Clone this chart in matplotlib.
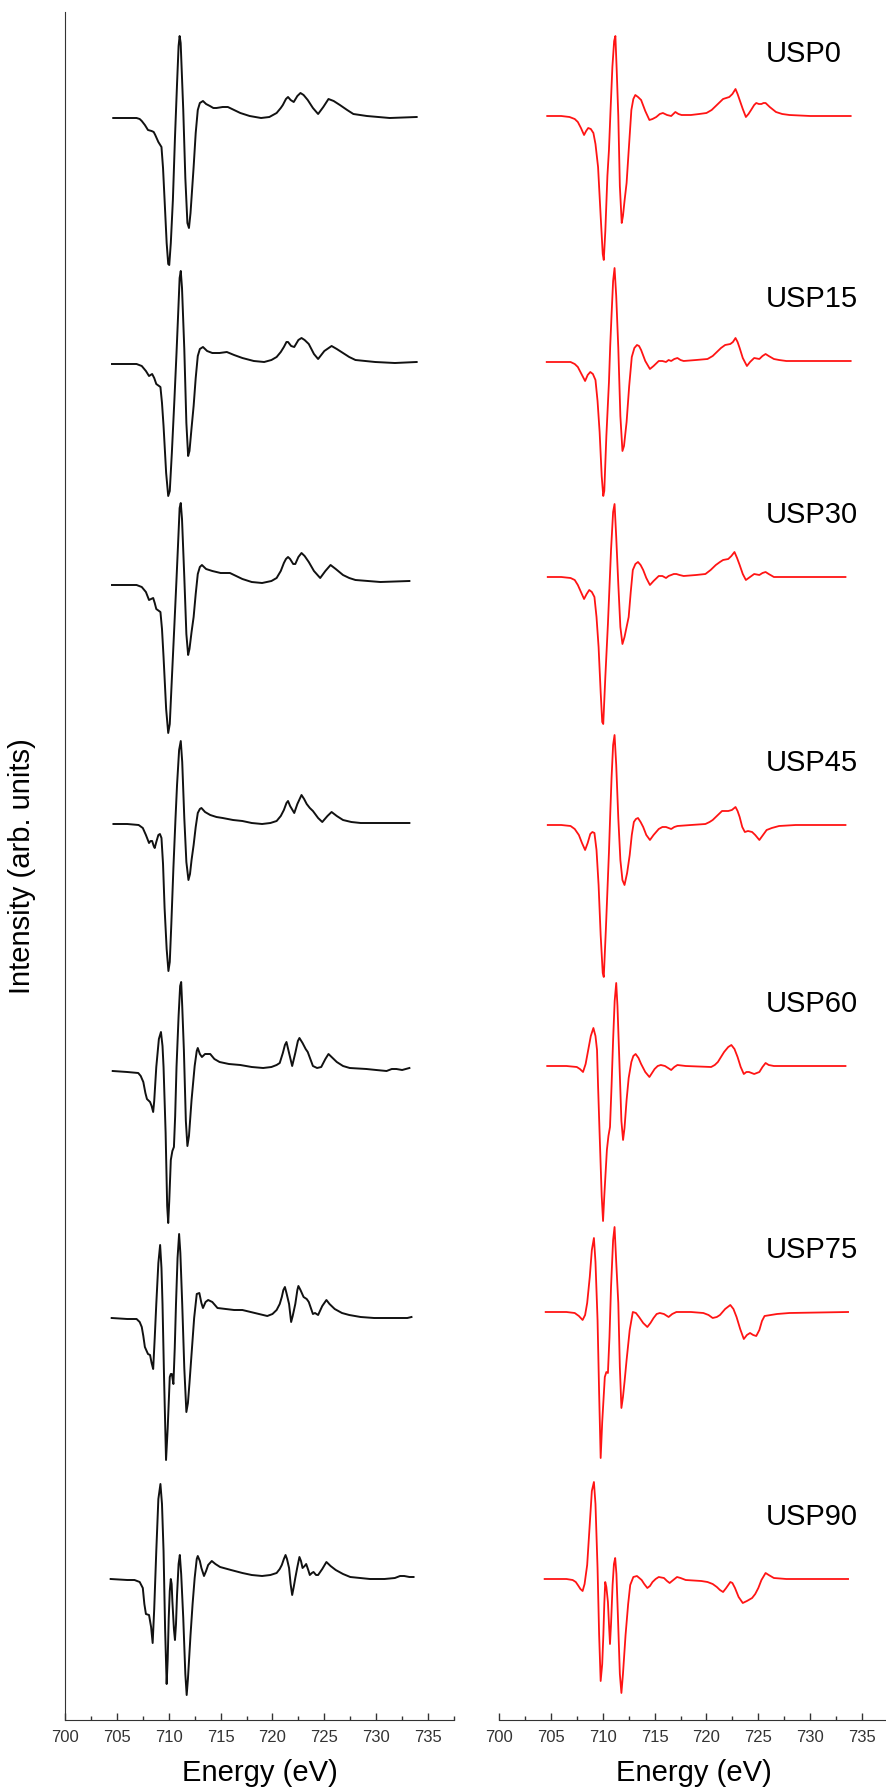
"""
stacked XAS spectra, experiment (black) vs calculation (red)
"""
import matplotlib
matplotlib.use('Agg')
import matplotlib.pyplot as plt
from matplotlib.ticker import MultipleLocator

plt.rcParams['font.family'] = ['Liberation Sans', 'DejaVu Sans']

samples = ['USP0', 'USP15', 'USP30', 'USP45', 'USP60', 'USP75', 'USP90']

# stacking offsets (arb. units)
exp_offsets = [1602, 1357, 1136, 896, 649, 402, 141]
sim_offsets = [1604, 1359, 1143, 895, 654, 408, 141]

# (energy eV, intensity)
# left panel, black
exp_usp0 = [(704.65, 0), (706.0, 0), (706.9, 0), (707.2, -1), (707.4, -3), (707.7, -7), (708.0, -12), (708.35, -13), (708.55, -14),
            (708.7, -17), (709.0, -24), (709.3, -29), (709.45, -50), (709.6, -82), (709.8, -125), (709.95, -146), (710.05, -147),
            (710.2, -125), (710.4, -82), (710.6, -20), (710.8, 34), (710.95, 72), (711.05, 82), (711.15, 75), (711.4, 8), (711.6, -60),
            (711.8, -105), (711.95, -110), (712.1, -95), (712.4, -49), (712.6, -15), (712.8, 8), (713.0, 15), (713.3, 17), (713.6, 14),
            (713.97, 12), (714.3, 10), (714.6, 10), (715.2, 11), (715.7, 11), (716.3, 8), (716.9, 5), (717.8, 2), (718.9, 0), (719.7, 1),
            (720.4, 5), (720.8, 10), (721.0, 13), (721.3, 19), (721.5, 21), (721.75, 18), (722.05, 16), (722.4, 22), (722.7, 25),
            (723.0, 23), (723.4, 18), (723.9, 10), (724.4, 4), (724.9, 11), (725.4, 19), (725.9, 17), (726.5, 13), (727.2, 8),
            (727.8, 4), (729.1, 2), (731.3, 0), (733.9, 1)]
exp_usp15 = [(704.53, -1), (706.0, -1), (706.9, -1), (707.4, -3), (707.8, -8), (708.1, -13), (708.4, -11), (708.6, -15), (708.8, -21),
             (709.2, -24), (709.35, -40), (709.5, -63), (709.75, -110), (709.95, -133), (710.1, -128), (710.3, -90), (710.55, -36),
             (710.75, 10), (710.9, 47), (711.05, 85), (711.16, 92), (711.28, 75), (711.5, 14), (711.7, -60), (711.87, -93), (712.0, -88),
             (712.2, -65), (712.4, -43), (712.6, -15), (712.8, 7), (713.0, 14), (713.3, 16), (713.7, 12), (714.2, 10), (714.9, 10),
             (715.6, 11), (716.3, 8), (717.1, 5), (718.2, 2), (719.2, 1), (719.9, 3), (720.4, 6), (720.8, 11), (721.1, 16), (721.35, 21),
             (721.5, 21), (721.8, 17), (722.1, 16), (722.5, 23), (722.8, 25), (723.1, 23), (723.5, 19), (724.0, 9), (724.4, 4),
             (725.0, 12), (725.7, 17), (726.2, 14), (726.8, 10), (727.4, 6), (728.0, 3), (729.9, 1), (731.8, 0), (733.9, 1)]
exp_usp30 = [(704.53, -1), (706.0, -1), (706.9, -1), (707.4, -3), (707.8, -8), (708.1, -16), (708.3, -15), (708.5, -14), (708.65, -19),
             (708.8, -25), (709.2, -28), (709.35, -45), (709.5, -73), (709.75, -125), (709.95, -149), (710.1, -140), (710.3, -95),
             (710.55, -40), (710.75, 5), (710.9, 40), (711.05, 76), (711.16, 81), (711.28, 65), (711.5, 7), (711.7, -50), (711.87, -71),
             (712.0, -65), (712.2, -48), (712.4, -33), (712.6, -10), (712.8, 10), (713.0, 17), (713.2, 19), (713.6, 15), (714.2, 13),
             (715.0, 11), (715.9, 11), (716.5, 8), (717.1, 5), (718.0, 2), (719.0, 1), (719.9, 3), (720.4, 6), (720.8, 13), (721.1, 21),
             (721.3, 25), (721.5, 27), (721.7, 25), (722.0, 20), (722.2, 20), (722.5, 27), (722.8, 31), (723.1, 28), (723.5, 22),
             (724.0, 13), (724.6, 6), (725.1, 13), (725.6, 19), (726.1, 15), (726.8, 9), (727.4, 6), (728.0, 4), (730.4, 2), (733.2, 3)]
exp_usp45 = [(704.67, 0), (706.0, 0), (707.1, -1), (707.5, -4), (707.8, -11), (708.1, -19), (708.25, -17), (708.4, -17), (708.55, -22),
             (708.65, -24), (708.8, -18), (709.0, -11), (709.15, -10), (709.3, -14), (709.45, -40), (709.6, -84), (709.8, -125),
             (709.97, -147), (710.1, -138), (710.25, -100), (710.45, -44), (710.65, 5), (710.8, 39), (711.0, 74), (711.16, 83),
             (711.3, 62), (711.5, 6), (711.7, -38), (711.9, -56), (712.05, -50), (712.2, -36), (712.4, -21), (712.6, -3), (712.8, 11),
             (713.0, 15), (713.15, 16), (713.5, 12), (714.0, 9), (714.6, 7), (715.2, 6), (716.2, 4), (717.1, 3), (718.0, 1), (719.0, 0),
             (719.8, 1), (720.4, 3), (720.8, 8), (721.1, 14), (721.35, 21), (721.5, 23), (721.7, 18), (722.1, 11), (722.4, 20),
             (722.8, 29), (723.05, 25), (723.3, 20), (723.6, 16), (723.9, 13), (724.4, 6), (724.8, 2), (725.3, 8), (725.7, 12),
             (726.2, 8), (726.8, 4), (727.6, 2), (728.5, 1), (733.2, 1)]
exp_usp60 = [(704.6, 0), (706.0, -1), (707.06, -2), (707.3, -5), (707.55, -11), (707.75, -22), (707.9, -28), (708.2, -31), (708.35, -35),
             (708.5, -41), (708.6, -30), (708.8, 4), (709.05, 32), (709.25, 39), (709.4, 25), (709.5, 4), (709.7, -62), (709.85, -135),
             (709.95, -152), (710.05, -130), (710.2, -89), (710.35, -80), (710.5, -76), (710.62, -45), (710.75, 4), (710.95, 55),
             (711.1, 85), (711.2, 89), (711.3, 65), (711.46, 21), (711.65, -50), (711.8, -75), (711.95, -65), (712.2, -29), (712.5, 5),
             (712.7, 20), (712.8, 23), (713.0, 17), (713.2, 14), (713.5, 17), (714.0, 17), (714.4, 12), (714.9, 9), (715.8, 7),
             (716.9, 6), (718.0, 4), (719.1, 3), (719.9, 4), (720.4, 6), (720.7, 8), (721.0, 18), (721.2, 26), (721.35, 29), (721.6, 18),
             (721.9, 5), (722.2, 18), (722.45, 30), (722.6, 33), (722.9, 28), (723.2, 22), (723.4, 19), (723.9, 5), (724.3, 3),
             (724.7, 4), (725.1, 12), (725.4, 17), (725.8, 13), (726.2, 9), (726.8, 5), (727.45, 3), (729.06, 2), (730.0, 1), (731.0, 0),
             (731.5, 2), (731.95, 2), (732.5, 1), (733.2, 3)]
exp_usp75 = [(704.5, 0), (706.0, -1), (706.9, -1), (707.2, -4), (707.4, -9), (707.55, -18), (707.7, -29), (708.0, -36), (708.2, -37),
             (708.35, -45), (708.5, -51), (708.65, -20), (708.8, 14), (709.0, 55), (709.17, 73), (709.3, 50), (709.4, 14), (709.55, -60),
             (709.74, -142), (709.9, -110), (710.1, -59), (710.2, -56), (710.3, -56), (710.45, -66), (710.58, -30), (710.7, 14),
             (710.85, 60), (711.0, 84), (711.12, 65), (711.3, 14), (711.5, -50), (711.7, -94), (711.85, -85), (712.0, -65), (712.2, -36),
             (712.45, 0), (712.7, 24), (712.95, 25), (713.15, 15), (713.3, 10), (713.55, 16), (713.8, 18), (714.2, 16), (714.7, 10),
             (715.5, 9), (716.3, 8), (717.1, 8), (718.3, 5), (719.5, 2), (720.0, 4), (720.4, 8), (720.7, 14), (720.9, 21), (721.05, 28),
             (721.2, 31), (721.35, 25), (721.6, 14), (721.8, -4), (721.95, 2), (722.2, 14), (722.4, 28), (722.5, 32), (722.7, 28),
             (723.0, 21), (723.3, 19), (723.5, 16), (723.9, 4), (724.1, 5), (724.4, 3), (724.8, 12), (725.2, 18), (725.5, 14), (726.0, 9),
             (726.7, 5), (727.4, 3), (728.5, 1), (729.8, 0), (731.7, 0), (733.0, 0), (733.4, 1)]
exp_usp90 = [(704.4, 0), (706.0, -1), (706.7, -1), (707.2, -3), (707.5, -9), (707.65, -25), (707.8, -35), (708.1, -36), (708.3, -48),
             (708.45, -64), (708.6, -30), (708.8, 28), (709.0, 80), (709.2, 95), (709.35, 75), (709.5, 28), (709.65, -50), (709.8, -105),
             (709.9, -80), (710.0, -39), (710.1, -12), (710.2, 0), (710.28, -5), (710.35, -22), (710.5, -50), (710.6, -61), (710.7, -45),
             (710.8, -16), (710.95, 15), (711.07, 24), (711.2, 5), (711.4, -39), (711.6, -95), (711.73, -116), (711.85, -100),
             (712.1, -56), (712.3, -25), (712.5, 1), (712.7, 20), (712.8, 23), (713.0, 18), (713.15, 11), (713.4, 3), (713.6, 8),
             (713.8, 14), (714.15, 18), (714.5, 15), (714.95, 12), (716.0, 9), (717.1, 6), (718.0, 4), (719.0, 3), (719.8, 4), (720.4, 6),
             (720.7, 10), (720.9, 14), (721.1, 20), (721.26, 24), (721.4, 20), (721.6, 11), (721.75, -5), (721.9, -16), (722.05, -8),
             (722.2, 1), (722.4, 12), (722.6, 22), (722.75, 18), (722.9, 11), (723.1, 13), (723.25, 15), (723.45, 9), (723.6, 4),
             (723.8, 6), (723.96, 7), (724.2, 4), (724.4, 4), (724.8, 10), (725.2, 17), (725.6, 13), (726.1, 9), (726.8, 5), (727.5, 2),
             (729.4, 0), (730.8, 0), (731.8, 1), (732.3, 3), (732.7, 3), (733.2, 2), (733.6, 2)]

# right panel, red
sim_usp0 = [(704.65, 0), (706.0, 0), (706.8, -1), (707.3, -3), (707.6, -6), (707.9, -12), (708.2, -19), (708.4, -15), (708.6, -12),
            (708.85, -13), (709.1, -17), (709.3, -28), (709.55, -51), (709.8, -100), (710.0, -138), (710.1, -144), (710.25, -115),
            (710.45, -60), (710.6, -34), (710.75, 5), (710.93, 49), (711.1, 75), (711.22, 80), (711.35, 45), (711.5, 0), (711.65, -70),
            (711.83, -107), (711.95, -100), (712.1, -85), (712.3, -67), (712.5, -35), (712.76, 6), (712.95, 17), (713.14, 21),
            (713.4, 19), (713.7, 16), (714.1, 5), (714.5, -4), (714.8, -3), (715.16, -1), (715.5, 2), (715.8, 3), (716.2, 1), (716.6, 0),
            (716.8, 2), (717.0, 4), (717.3, 2), (717.6, 1), (718.5, 1), (719.3, 2), (720.0, 3), (720.5, 6), (720.9, 10), (721.3, 14),
            (721.6, 17), (721.9, 18), (722.2, 19), (722.5, 22), (722.8, 27), (723.0, 22), (723.2, 16), (723.5, 7), (723.8, -1),
            (724.05, 2), (724.3, 6), (724.6, 11), (724.8, 13), (725.05, 12), (725.3, 12), (725.5, 13), (725.7, 13), (726.1, 9),
            (726.7, 4), (727.3, 2), (728.0, 1), (730.0, 0), (733.9, 0)]
sim_usp15 = [(704.6, -1), (706.0, -1), (706.9, -1), (707.3, -3), (707.6, -6), (708.0, -14), (708.3, -20), (708.55, -14), (708.8, -11),
             (709.05, -13), (709.3, -19), (709.5, -40), (709.7, -71), (709.9, -115), (710.05, -135), (710.15, -130), (710.35, -75),
             (710.6, -21), (710.72, 15), (710.85, 46), (711.0, 80), (711.14, 93), (711.3, 65), (711.5, 13), (711.7, -55), (711.9, -90),
             (712.05, -85), (712.3, -61), (712.55, -25), (712.8, 4), (713.05, 13), (713.3, 16), (713.5, 15), (713.7, 11), (714.1, 0),
             (714.55, -8), (714.9, -5), (715.4, 0), (715.75, 0), (716.1, -1), (716.35, 1), (716.6, 0), (716.9, 2), (717.2, 3),
             (717.5, 1), (717.8, 0), (719.0, 1), (720.1, 2), (720.6, 5), (721.0, 9), (721.4, 13), (721.8, 16), (722.3, 17),
             (722.55, 19), (722.8, 23), (723.0, 19), (723.2, 13), (723.5, 3), (723.9, -5), (724.2, -1), (724.6, 3), (725.1, 2),
             (725.4, 5), (725.7, 7), (726.0, 5), (726.5, 2), (727.0, 1), (727.7, 0), (733.9, 0)]
sim_usp30 = [(704.7, 0), (706.0, 0), (706.9, -1), (707.3, -3), (707.6, -8), (707.9, -15), (708.2, -22), (708.45, -17), (708.7, -13),
             (708.95, -15), (709.2, -20), (709.4, -40), (709.6, -70), (709.8, -115), (709.95, -145), (710.05, -147), (710.25, -100),
             (710.5, -47), (710.65, -10), (710.8, 27), (711.0, 65), (711.14, 73), (711.3, 40), (711.5, -7), (711.7, -50), (711.9, -67),
             (712.1, -60), (712.3, -50), (712.5, -40), (712.7, -15), (712.9, 7), (713.15, 13), (713.4, 15), (713.65, 12), (713.9, 7),
             (714.2, -1), (714.55, -8), (714.9, -4), (715.4, 1), (715.75, 1), (716.1, -1), (716.35, 1), (716.6, 2), (716.85, 3),
             (717.1, 3), (717.4, 2), (717.8, 1), (719.0, 2), (719.9, 3), (720.4, 7), (720.9, 12), (721.3, 15), (721.6, 17), (722.1, 18),
             (722.4, 21), (722.7, 25), (722.95, 19), (723.2, 12), (723.5, 3), (723.8, -3), (724.2, 0), (724.6, 3), (725.1, 2),
             (725.4, 4), (725.7, 5), (726.0, 3), (726.5, 0), (727.5, 0), (733.4, 0)]
sim_usp45 = [(704.7, 0), (706.0, 0), (706.9, -1), (707.3, -4), (707.7, -10), (708.0, -18), (708.3, -25), (708.55, -18), (708.8, -9),
             (709.0, -7), (709.2, -8), (709.4, -25), (709.6, -60), (709.8, -110), (710.0, -148), (710.1, -152), (710.3, -105),
             (710.6, -27), (710.72, 10), (710.85, 47), (711.0, 80), (711.14, 90), (711.3, 60), (711.5, 7), (711.7, -35), (711.9, -55),
             (712.1, -60), (712.35, -48), (712.6, -30), (712.8, -10), (713.0, 3), (713.2, 6), (713.4, 7), (713.65, 3), (713.9, -2),
             (714.2, -10), (714.55, -15), (714.9, -10), (715.4, -4), (715.75, -2), (716.1, -2), (716.35, -3), (716.6, -4), (716.9, -2),
             (717.2, -1), (718.5, 0), (719.9, 1), (720.3, 3), (720.6, 5), (721.0, 9), (721.5, 14), (721.8, 14), (722.1, 14),
             (722.45, 15), (722.8, 18), (723.0, 14), (723.2, 8), (723.45, -2), (723.7, -7), (724.0, -6), (724.4, -7), (724.7, -10),
             (725.1, -15), (725.45, -10), (725.8, -5), (726.3, -3), (727.0, -1), (728.6, 0), (733.4, 0)]
sim_usp60 = [(704.65, 0), (706.5, 0), (707.5, -1), (707.8, -3), (708.1, -6), (708.35, 2), (708.6, 16), (708.85, 30), (709.1, 38),
             (709.3, 30), (709.45, 16), (709.55, -20), (709.7, -68), (709.9, -130), (710.03, -155), (710.15, -130), (710.4, -84),
             (710.55, -70), (710.7, -61), (710.85, -20), (711.0, 26), (711.15, 65), (711.3, 83), (711.42, 60), (711.6, 6), (711.8, -55),
             (711.96, -74), (712.1, -62), (712.3, -34), (712.5, -12), (712.76, 4), (712.95, 10), (713.17, 12), (713.45, 8), (713.7, 2),
             (714.1, -6), (714.5, -11), (714.75, -7), (715.0, -3), (715.3, 0), (715.6, 1), (716.0, 0), (716.3, -2), (716.6, -4),
             (716.9, -1), (717.2, 1), (718.0, 0), (720.45, -1), (720.8, 1), (721.1, 4), (721.4, 9), (721.7, 14), (722.1, 19),
             (722.4, 21), (722.7, 17), (723.0, 9), (723.3, -1), (723.6, -8), (723.85, -6), (724.1, -6), (724.35, -7), (724.6, -8),
             (724.85, -7), (725.1, -6), (725.4, -1), (725.7, 3), (726.0, 1), (726.5, 0), (733.4, 0)]
sim_usp75 = [(704.5, 0), (706.5, 0), (707.3, -1), (707.7, -4), (708.06, -8), (708.3, -3), (708.5, 9), (708.75, 35), (708.95, 62),
             (709.15, 74), (709.3, 50), (709.5, -8), (709.65, -80), (709.8, -146), (709.95, -110), (710.2, -65), (710.35, -60),
             (710.5, -61), (710.65, -25), (710.8, 25), (711.0, 72), (711.14, 85), (711.3, 50), (711.5, 9), (711.65, -55), (711.8, -96),
             (711.95, -85), (712.1, -70), (712.3, -48), (712.6, -18), (712.9, 0), (713.2, -1), (713.5, -5), (713.9, -11), (714.3, -15),
             (714.6, -11), (714.9, -6), (715.2, -2), (715.5, -1), (715.9, -2), (716.35, -5), (716.7, -2), (717.1, 0), (718.5, 0),
             (719.7, -1), (720.2, -3), (720.6, -6), (721.0, -5), (721.3, -3), (721.8, 3), (722.3, 7), (722.6, 3), (722.9, -5),
             (723.25, -17), (723.6, -27), (723.9, -23), (724.2, -21), (724.5, -23), (724.8, -24), (725.1, -18), (725.35, -9),
             (725.6, -4), (726.2, -3), (726.8, -2), (728.0, -1), (733.65, 0)]
sim_usp90 = [(704.4, 0), (706.5, 0), (707.1, -1), (707.4, -3), (707.6, -6), (707.85, -10), (708.06, -12), (708.25, -5), (708.5, 14),
             (708.75, 55), (708.95, 88), (709.15, 97), (709.3, 75), (709.5, 11), (709.65, -55), (709.8, -102), (709.95, -85),
             (710.06, -56), (710.15, -25), (710.24, -3), (710.35, -8), (710.5, -23), (710.6, -45), (710.7, -65), (710.8, -45),
             (710.95, -6), (711.08, 15), (711.2, 21), (711.32, 5), (711.47, -39), (711.65, -95), (711.8, -114), (711.95, -95),
             (712.2, -56), (712.45, -25), (712.65, -6), (712.95, 2), (713.3, 3), (713.75, -1), (714.0, -5), (714.3, -9), (714.55, -7),
             (714.8, -3), (715.1, 0), (715.4, 2), (715.9, 1), (716.2, -2), (716.45, -4), (716.8, -1), (717.16, 2), (717.5, 1),
             (718.0, -1), (719.5, -2), (720.1, -3), (720.6, -5), (721.0, -8), (721.3, -11), (721.6, -13), (721.9, -9), (722.3, -3),
             (722.5, -4), (722.75, -9), (723.1, -18), (723.5, -24), (723.9, -22), (724.4, -19), (724.7, -15), (725.0, -9), (725.3, -1),
             (725.7, 6), (726.0, 4), (726.5, 1), (727.7, 0), (733.65, 0)]

exp_spectra = [exp_usp0, exp_usp15, exp_usp30, exp_usp45, exp_usp60, exp_usp75, exp_usp90]
sim_spectra = [sim_usp0, sim_usp15, sim_usp30, sim_usp45, sim_usp60, sim_usp75, sim_usp90]


def style_axis(ax, show_left):
    ax.set_xlim(700, 737.5)
    ax.set_ylim(0, 1708)
    ax.spines['top'].set_visible(False)
    ax.spines['right'].set_visible(False)
    ax.spines['left'].set_visible(show_left)
    ax.spines['left'].set_color('#333333')
    ax.spines['bottom'].set_color('#333333')
    ax.xaxis.set_major_locator(MultipleLocator(5))
    ax.xaxis.set_minor_locator(MultipleLocator(2.5))
    ax.tick_params(axis='x', which='major', direction='in', length=5, width=1, pad=7, labelsize=12, colors='#333333')
    ax.tick_params(axis='x', which='minor', direction='in', length=3, width=1, colors='#333333')
    ax.set_yticks([])
    ax.set_xlabel('Energy (eV)', fontsize=21, labelpad=10)


fig = plt.figure(figsize=(8.87, 17.91), dpi=100)
ax_l = fig.add_axes([65 / 887, 71 / 1791, 389 / 887, 1708 / 1791])
ax_r = fig.add_axes([499 / 887, 71 / 1791, 389 / 887, 1708 / 1791])

for spec, off in zip(exp_spectra, exp_offsets):
    e, y = zip(*spec)
    ax_l.plot(e, [v + off for v in y], color='#111111', lw=1.4, solid_joinstyle='round', clip_on=False)

for spec, off, name in zip(sim_spectra, sim_offsets, samples):
    e, y = zip(*spec)
    ax_r.plot(e, [v + off for v in y], color='#ff1414', lw=1.3, solid_joinstyle='round', clip_on=False)
    ax_r.text(725.75, off + 62, name, fontsize=21, ha='left', va='center')

style_axis(ax_l, True)
style_axis(ax_r, False)

ax_l.set_ylabel('Intensity (arb. units)', fontsize=21)
ax_l.yaxis.set_label_coords(-0.075, 0.5)

fig.savefig('out.png', dpi=100)
